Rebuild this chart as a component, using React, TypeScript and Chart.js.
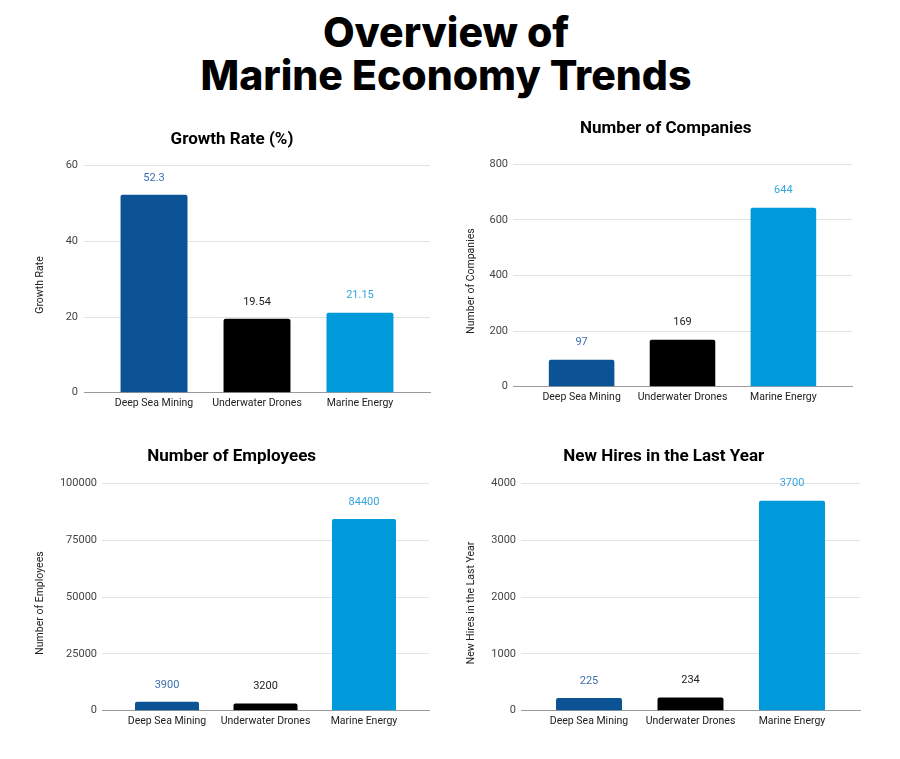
import React, { useEffect, useRef } from 'react';
import { Chart, registerables } from 'chart.js';

Chart.register(...registerables);

const categories = ['Deep Sea Mining', 'Underwater Drones', 'Marine Energy'];
const growthRate = [52.3, 19.54, 21.15];
const companies = [97, 169, 644];
const employees = [3900, 3200, 84400];
const newHires = [225, 234, 3700];

const growthTicks = [0, 20, 40, 60];
const companyTicks = [0, 200, 400, 600, 800];
const employeeTicks = [0, 25000, 50000, 75000, 100000];
const hireTicks = [0, 1000, 2000, 3000, 4000];

const barColors = ['#0b5394', '#000000', '#0099d9'];
const labelColors = ['#3d6fae', '#222222', '#35a5dd'];

const FONT = 'Roboto, "Liberation Sans", Arial, sans-serif';

type Panel = {
  title: string;
  yTitle: string;
  values: number[];
  ticks: number[];
  box: { left: number; top: number; width: number; height: number };
  plot: { left: number; right: number; top: number; bottom: number };
  titleCX: number;
  titleCY: number;
  yTitleX: number;
  yTitleY: number;
  tickPad: number;
  span: number;
};

const panels: Panel[] = [
  {
    title: 'Growth Rate (%)',
    yTitle: 'Growth Rate',
    values: growthRate,
    ticks: growthTicks,
    box: { left: 0, top: 115, width: 450, height: 305 },
    plot: { left: 84, right: 430, top: 165.7, bottom: 392.7 },
    titleCX: 232,
    titleCY: 140,
    yTitleX: 40,
    yTitleY: 285,
    tickPad: 6,
    span: 0.68,
  },
  {
    title: 'Number of Companies',
    yTitle: 'Number of Companies',
    values: companies,
    ticks: companyTicks,
    box: { left: 450, top: 105, width: 450, height: 310 },
    plot: { left: 513, right: 852, top: 164.3, bottom: 386.7 },
    titleCX: 665.8,
    titleCY: 129,
    yTitleX: 471,
    yTitleY: 281,
    tickPad: 5,
    span: 0.68,
  },
  {
    title: 'Number of Employees',
    yTitle: 'Number of Employees',
    values: employees,
    ticks: employeeTicks,
    box: { left: 0, top: 435, width: 450, height: 324 },
    plot: { left: 102, right: 429, top: 483.7, bottom: 710.7 },
    titleCX: 231.7,
    titleCY: 457,
    yTitleX: 40,
    yTitleY: 603,
    tickPad: 5,
    span: 0.66,
  },
  {
    title: 'New Hires in the Last Year',
    yTitle: 'New Hires in the Last Year',
    values: newHires,
    ticks: hireTicks,
    box: { left: 450, top: 435, width: 450, height: 324 },
    plot: { left: 521, right: 860, top: 483.7, bottom: 710.7 },
    titleCX: 663.8,
    titleCY: 457,
    yTitleX: 471.7,
    yTitleY: 603,
    tickPad: 5,
    span: 0.67,
  },
];

const valueLabels = {
  id: 'valueLabels',
  afterDatasetsDraw(chart: any) {
    const { ctx } = chart;
    const meta = chart.getDatasetMeta(0);
    const ds = chart.data.datasets[0];
    ctx.save();
    ctx.font = `11px ${FONT}`;
    ctx.textAlign = 'center';
    ctx.textBaseline = 'middle';
    meta.data.forEach((el: any, i: number) => {
      ctx.fillStyle = labelColors[i];
      ctx.fillText(String(ds.data[i].y), el.x, el.y - 17);
    });
    ctx.restore();
  },
};

const yAxisTitle = {
  id: 'yAxisTitle',
  afterDraw(chart: any, _args: any, opts: any) {
    const { ctx } = chart;
    ctx.save();
    ctx.translate(opts.x, opts.y);
    ctx.rotate(-Math.PI / 2);
    ctx.font = `10.5px ${FONT}`;
    ctx.fillStyle = '#222';
    ctx.textAlign = 'center';
    ctx.textBaseline = 'middle';
    ctx.fillText(opts.text, 0, 0);
    ctx.restore();
  },
};

function BarPanel({ p }: { p: Panel }) {
  const ref = useRef<HTMLCanvasElement>(null);
  useEffect(() => {
    if (!ref.current) return;
    const { box, plot } = p;
    const scaleLeft = 2 * p.titleCX - plot.right;
    const padLeft = scaleLeft - box.left;
    const padRight = box.left + box.width - plot.right;
    const yWidth = plot.left - scaleLeft;
    const xHeight = box.top + box.height - plot.bottom;
    const titleSize = 17;
    const titleLH = titleSize * 1.2;
    const titlePadTop = p.titleCY - box.top - titleLH / 2;
    const titlePadBottom = plot.top - box.top - titlePadTop - titleLH;
    const tmin = p.ticks[0];
    const tmax = p.ticks[p.ticks.length - 1];
    const step = p.ticks[1] - p.ticks[0];

    const chart = new Chart(ref.current, {
      type: 'bar',
      data: {
        datasets: [
          {
            data: p.values.map((v, i) => ({ x: i, y: v })),
            backgroundColor: barColors,
            borderRadius: 2,
            barPercentage: 0.65,
            categoryPercentage: 1,
          },
        ],
      },
      options: {
        animation: false,
        responsive: false,
        devicePixelRatio: 1,
        layout: { padding: { left: padLeft, right: padRight, top: 0, bottom: 0 } },
        plugins: {
          legend: { display: false },
          tooltip: { enabled: false },
          title: {
            display: true,
            text: p.title,
            color: '#000',
            font: { family: FONT, size: titleSize, weight: 'bold', lineHeight: 1.2 },
            padding: { top: titlePadTop, bottom: titlePadBottom },
          },
          yAxisTitle: { text: p.yTitle, x: p.yTitleX - box.left, y: p.yTitleY - box.top },
        },
        scales: {
          x: {
            type: 'linear',
            min: -p.span,
            max: 2 + p.span,
            offset: false,
            grid: { display: false, drawTicks: false },
            border: { display: true, color: '#9a9a9a', width: 1 },
            ticks: {
              stepSize: 1,
              includeBounds: false,
              autoSkip: false,
              maxRotation: 0,
              padding: 4,
              color: '#222',
              font: { family: FONT, size: 10.5 },
              callback: (v: any) => (Number.isInteger(v) ? categories[v] ?? '' : ''),
            },
            afterFit: (s: any) => {
              s.height = xHeight;
            },
          },
          y: {
            type: 'linear',
            min: tmin,
            max: tmax,
            grid: {
              drawTicks: false,
              color: (c: any) => (c.tick && c.tick.value === 0 ? 'rgba(0,0,0,0)' : '#e3e3e3'),
            },
            border: { display: false },
            ticks: {
              stepSize: step,
              padding: p.tickPad,
              color: '#444',
              font: { family: FONT, size: 11 },
              callback: (v: any) => String(v),
            },
            afterFit: (s: any) => {
              s.width = yWidth;
            },
          },
        },
      },
      plugins: [valueLabels, yAxisTitle],
    } as any);
    return () => chart.destroy();
  }, [p]);

  return (
    <canvas
      ref={ref}
      width={p.box.width}
      height={p.box.height}
      style={{
        position: 'absolute',
        left: p.box.left,
        top: p.box.top,
        width: p.box.width,
        height: p.box.height,
      }}
    />
  );
}

export default function App() {
  return (
    <div
      style={{
        position: 'absolute',
        left: 0,
        top: 0,
        width: 900,
        height: 759,
        background: '#fff',
        overflow: 'hidden',
      }}
    >
      <div
        style={{
          position: 'absolute',
          left: 0,
          top: 11,
          width: 892,
          textAlign: 'center',
          fontFamily: 'Inter, "Open Sans", sans-serif',
          fontWeight: 800,
          fontSize: 41,
          lineHeight: '43px',
          color: '#000',
        }}
      >
        Overview of
        <br />
        Marine Economy Trends
      </div>
      {panels.map((p, i) => (
        <BarPanel key={i} p={p} />
      ))}
    </div>
  );
}
